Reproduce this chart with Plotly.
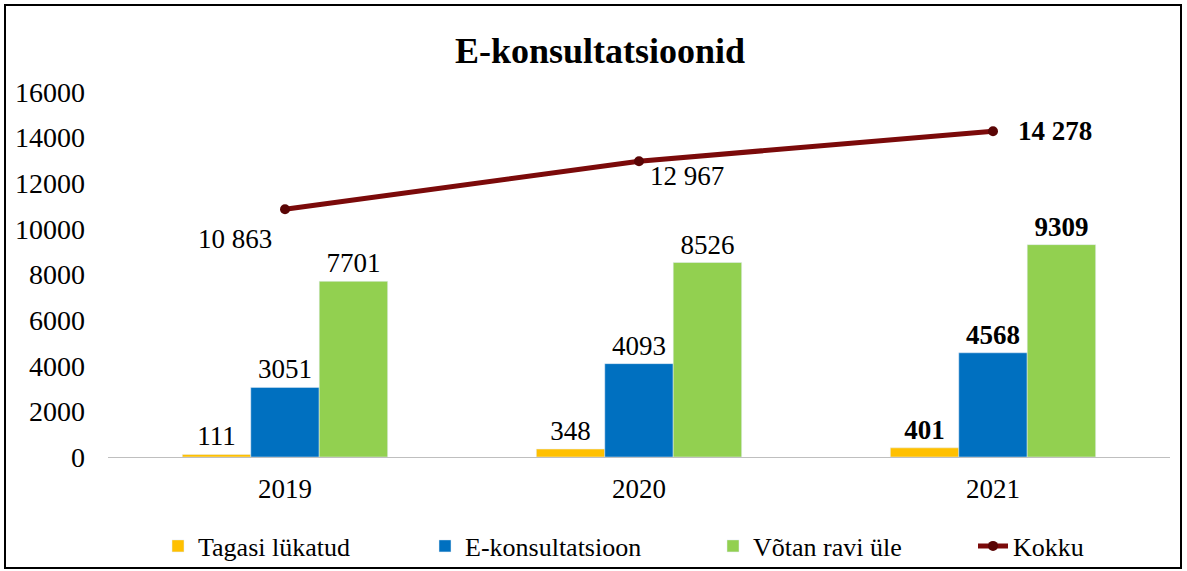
import plotly.graph_objects as go

years = ["2019", "2020", "2021"]
tagasi = [111, 348, 401]
ekons = [3051, 4093, 4568]
votan = [7701, 8526, 9309]
kokku = [10863, 12967, 14278]
kokku_labels = ["10 863", "12 967", "<b>14 278</b>"]
bar_labels_fmt = ["{}", "{}", "<b>{}</b>"]

FONT = "Liberation Serif"
FS = 27
W, H = 1187, 571

def labels(vals):
    return [f.format(v) for f, v in zip(bar_labels_fmt, vals)]

fig = go.Figure()
series = [("Tagasi lükatud", tagasi, "#FFC000", "legend"),
          ("E-konsultatsioon", ekons, "#0070C0", "legend2"),
          ("Võtan ravi üle", votan, "#92D050", "legend3")]
for name, vals, col, lg in series:
    fig.add_trace(go.Bar(x=years, y=vals, name=name, marker_color=col, legend=lg,
                         showlegend=True,
                         text=labels(vals), textposition="outside",
                         constraintext="none",
                         textfont=dict(family=FONT, size=FS, color="black"),
                         cliponaxis=False))

fig.add_trace(go.Scatter(x=years, y=kokku, name="Kokku", mode="lines+markers",
                         legend="legend4", showlegend=True,
                         line=dict(color="#7B0A0A", width=5),
                         marker=dict(color="#5A0505", size=10)))

shifts = [(-50, -30), (48, -15), (62, 0)]
for i, (v, t, (dx, dy)) in enumerate(zip(kokku, kokku_labels, shifts)):
    fig.add_annotation(x=i, y=v, text=t, showarrow=False, xshift=dx, yshift=dy,
                       font=dict(family=FONT, size=FS, color="black"))

def legend_at(px):
    return dict(orientation="h", xref="container", yref="container",
                x=px / W, xanchor="left", y=1 - 546 / H, yanchor="middle",
                bgcolor="rgba(0,0,0,0)", borderwidth=0, visible=True,
                font=dict(family=FONT, size=26, color="black"))

fig.update_layout(
    width=W, height=H, showlegend=True,
    margin=dict(l=108, r=17, t=92, b=114, autoexpand=False),
    paper_bgcolor="white", plot_bgcolor="white",
    barmode="group", bargap=0.42, bargroupgap=0,
    title=dict(text="<b>E-konsultatsioonid</b>", x=600 / W, xanchor="center",
               y=1 - 50 / H, yanchor="middle",
               font=dict(family=FONT, size=36, color="black")),
    font=dict(family=FONT, size=FS, color="black"),
    xaxis=dict(type="category", range=[-0.5, 2.5], showline=True, linecolor="#BFBFBF",
               linewidth=1, ticks="", ticklabelstandoff=8,
               tickfont=dict(family=FONT, size=FS, color="black"), showgrid=False),
    yaxis=dict(range=[0, 16000], dtick=2000, tickformat="d", showgrid=False, zeroline=False,
               showline=False, tickfont=dict(family=FONT, size=28, color="black"),
               ticklabelstandoff=22),
    legend=legend_at(158),
    legend2=legend_at(425),
    legend3=legend_at(713),
    legend4=legend_at(973),
    shapes=[dict(type="rect", xref="paper", yref="paper",
                 x0=(5 - 108) / 1062, x1=(1181 - 108) / 1062,
                 y0=(457 - 568) / 365, y1=(457 - 5) / 365,
                 line=dict(color="black", width=2), fillcolor="rgba(0,0,0,0)")],
)

fig.write_html("out.html", config={"displayModeBar": False},
               post_script="document.body.style.margin='0';document.body.style.padding='0';")
